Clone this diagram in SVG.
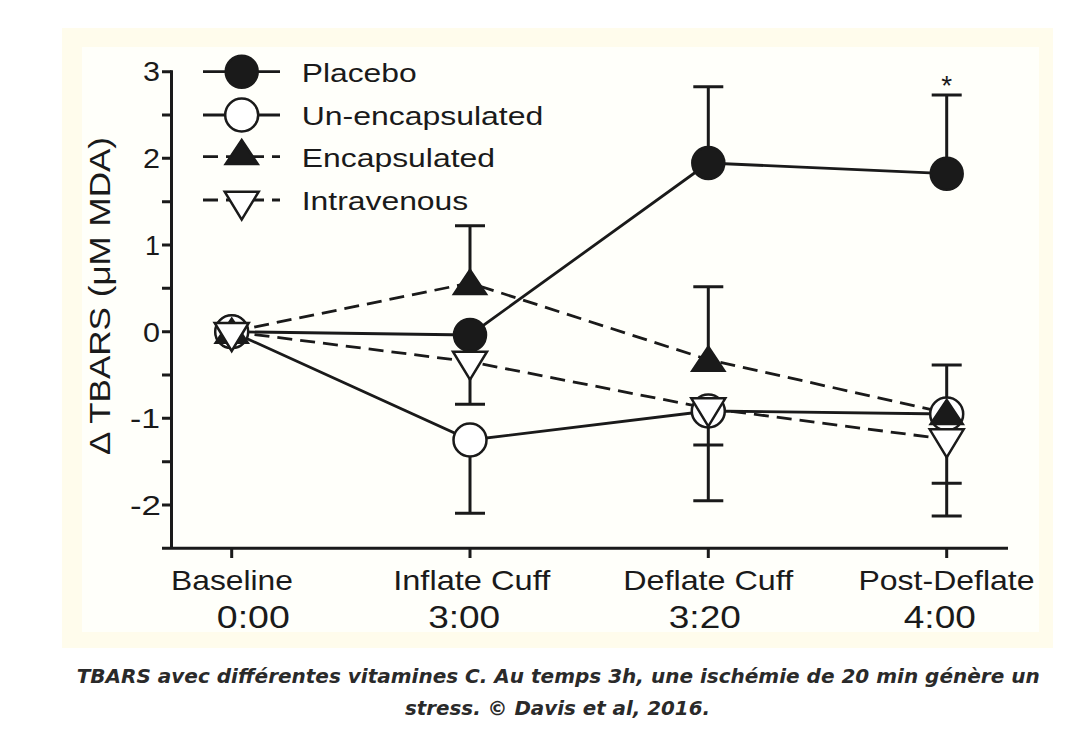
<svg xmlns="http://www.w3.org/2000/svg" width="1080" height="742" viewBox="0 0 1080 742">
<defs>
<style>
.ax{stroke:#1a1a1a;stroke-width:3;fill:none}
.ln{stroke:#1a1a1a;stroke-width:2.8;fill:none}
.dash{stroke-dasharray:15 8}
.eb{stroke:#1a1a1a;stroke-width:3;fill:none}
.fc{fill:#1a1a1a;stroke:#1a1a1a;stroke-width:2.5}
.oc{fill:#ffffff;stroke:#1a1a1a;stroke-width:2.5}
.t{font-family:"Liberation Sans",Arial,Helvetica,sans-serif;fill:#1a1a1a}
.lg{font-size:26px}
.tk{font-size:28px;text-anchor:end}
.xl{font-size:28px;text-anchor:middle}
.xt{font-size:32px;text-anchor:middle}
.cap{font-family:"DejaVu Sans",Verdana,sans-serif;font-weight:bold;font-style:italic;font-size:19px;fill:#2a2a2a}
</style>
<circle id="mFC" r="16" class="fc"/>
<circle id="mOC" r="16.5" class="oc"/>
<path id="mUp" class="fc" d="M0,-13 L16,11 L-16,11Z"/>
<path id="mDn" class="oc" d="M-17,-10 L17,-10 L0,18Z"/>
</defs>

<g id="background">
<rect x="0" y="0" width="1080" height="742" fill="#ffffff"/>
<rect x="62" y="28" width="991" height="620" fill="#fffcec"/>
<rect x="82" y="47" width="957" height="585" fill="#fffffa"/>
</g>

<g id="axes">
<path class="ax" d="M171.5,70.2 V549.8 M162,548.3 H1008"/>
<path class="ax" d="M162,71.7 H171.5 M162,115 H171.5 M162,158.3 H171.5 M162,201.7 H171.5 M162,245 H171.5 M162,288.3 H171.5 M162,331.7 H171.5 M162,375 H171.5 M162,418.3 H171.5 M162,461.7 H171.5 M162,505 H171.5"/>
<path class="ax" d="M231.7,548.3 V558 M470,548.3 V558 M708.3,548.3 V558 M946.7,548.3 V558"/>
<g class="t">
<text class="tk" x="160" y="81" textLength="17" lengthAdjust="spacingAndGlyphs">3</text>
<text class="tk" x="160" y="168" textLength="17" lengthAdjust="spacingAndGlyphs">2</text>
<text class="tk" x="160" y="254.5" textLength="15" lengthAdjust="spacingAndGlyphs">1</text>
<text class="tk" x="160" y="341.5" textLength="17" lengthAdjust="spacingAndGlyphs">0</text>
<text class="tk" x="160" y="428" textLength="30" lengthAdjust="spacingAndGlyphs">-1</text>
<text class="tk" x="161" y="514.5" textLength="31" lengthAdjust="spacingAndGlyphs">-2</text>
<text class="t" font-size="29" text-anchor="middle" transform="translate(109.5,296) rotate(-90)" textLength="318" lengthAdjust="spacingAndGlyphs">Δ TBARS (μM MDA)</text>
<text class="xl" x="232" y="590" textLength="122" lengthAdjust="spacingAndGlyphs">Baseline</text>
<text class="xt" x="253.3" y="628" textLength="73" lengthAdjust="spacingAndGlyphs">0:00</text>
<text class="xl" x="471.7" y="590" textLength="157" lengthAdjust="spacingAndGlyphs">Inflate Cuff</text>
<text class="xt" x="464.2" y="628" textLength="72" lengthAdjust="spacingAndGlyphs">3:00</text>
<text class="xl" x="708.2" y="590" textLength="170" lengthAdjust="spacingAndGlyphs">Deflate Cuff</text>
<text class="xt" x="704.8" y="628" textLength="72" lengthAdjust="spacingAndGlyphs">3:20</text>
<text class="xl" x="946.5" y="590" textLength="176" lengthAdjust="spacingAndGlyphs">Post-Deflate</text>
<text class="xt" x="939.8" y="628" textLength="72" lengthAdjust="spacingAndGlyphs">4:00</text>
</g>
</g>

<g id="legend">
<g id="legend-placebo">
<path class="ln" d="M203,71.7 H280"/>
<use href="#mFC" x="241.7" y="71.7"/>
<text class="t lg" x="301.7" y="81.7" textLength="115" lengthAdjust="spacingAndGlyphs">Placebo</text>
</g>
<g id="legend-unencapsulated">
<path class="ln" d="M203,115 H280"/>
<use href="#mOC" x="241.7" y="115"/>
<text class="t lg" x="301.7" y="125" textLength="241.6" lengthAdjust="spacingAndGlyphs">Un-encapsulated</text>
</g>
<g id="legend-encapsulated">
<path class="ln dash" d="M203,156.7 H280" stroke-dasharray="13 7"/>
<use href="#mUp" x="241.7" y="153"/>
<text class="t lg" x="301.7" y="166.7" textLength="193.3" lengthAdjust="spacingAndGlyphs">Encapsulated</text>
</g>
<g id="legend-intravenous">
<path class="ln dash" d="M203,200 H280" stroke-dasharray="13 7"/>
<use href="#mDn" x="241.7" y="201.7"/>
<text class="t lg" x="301.7" y="210" textLength="166.6" lengthAdjust="spacingAndGlyphs">Intravenous</text>
</g>
</g>

<g id="connectors">
<path id="line-placebo" class="ln" d="M231.7,331.7 L470,335 L708.3,163 L946.7,173.7"/>
<path id="line-unencapsulated" class="ln" d="M231.7,331.7 L470,440 L708.3,411 L946.7,414"/>
<path id="line-encapsulated" class="ln dash" d="M231.7,331.7 L470,283 L708.3,359.7 L946.7,413"/>
<path id="line-intravenous" class="ln dash" d="M231.7,331.7 L470,361.7 L708.3,408.3 L946.7,439.3"/>
</g>

<g id="error-bars">
<path class="eb" d="M470,283 V225.7 M455,225.7 H485 M470,361.7 V404.3 M455,404.3 H485 M470,440 V513.3 M455,513.3 H485"/>
<path class="eb" d="M708.3,163 V86.7 M693.3,86.7 H723.3 M708.3,359.7 V286.7 M693.3,286.7 H723.3 M708.3,408 V500.7 M693.3,445 H723.3 M693.3,500.7 H723.3"/>
<path class="eb" d="M946.7,173.7 V95 M931.7,95 H961.7 M946.7,413 V365 M931.7,365 H961.7 M946.7,439 V516 M931.7,483.3 H961.7 M931.7,516 H961.7"/>
</g>

<g id="node-baseline">
<use href="#mFC" x="231.7" y="331.7"/>
<use href="#mOC" x="231.7" y="331.7"/>
<use href="#mUp" x="231.7" y="331.7"/>
<use href="#mDn" x="231.7" y="333"/>
</g>
<g id="node-inflate">
<use href="#mFC" x="470" y="335"/>
<use href="#mOC" x="470" y="440"/>
<use href="#mUp" x="470" y="283"/>
<use href="#mDn" x="470" y="361.7"/>
</g>
<g id="node-deflate">
<use href="#mFC" x="708.3" y="163"/>
<use href="#mUp" x="708.3" y="359.7"/>
<use href="#mOC" x="708.3" y="411"/>
<use href="#mDn" x="708.3" y="408.3"/>
</g>
<g id="node-post">
<use href="#mFC" x="946.7" y="173.7"/>
<use href="#mOC" x="946.7" y="414"/>
<use href="#mDn" x="946.7" y="439.3"/>
<use href="#mUp" x="946.7" y="413"/>
<text class="t" x="946.7" y="95" font-size="28" text-anchor="middle">*</text>
</g>

<g id="caption">
<text class="cap" x="76.7" y="683" textLength="963" lengthAdjust="spacingAndGlyphs">TBARS avec différentes vitamines C. Au temps 3h, une ischémie de 20 min génère un</text>
<text class="cap" x="405" y="715" textLength="305" lengthAdjust="spacingAndGlyphs">stress. © Davis et al, 2016.</text>
</g>
</svg>
